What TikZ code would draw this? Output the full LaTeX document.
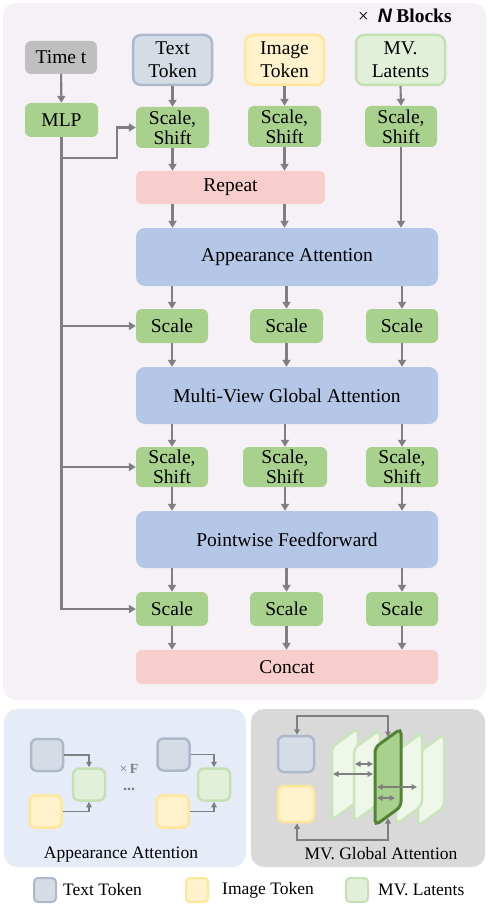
\documentclass[tikz,border=0pt]{standalone}
\usepackage{fontspec}
\setmainfont{Liberation Serif}
\setsansfont{Liberation Sans}
\usetikzlibrary{arrows.meta}
\definecolor{bgmain}{HTML}{F6F1F7}
\definecolor{bgleft}{HTML}{E5ECF7}
\definecolor{bgright}{HTML}{D9D9D9}
\definecolor{gfill}{HTML}{A9D18E}
\definecolor{bfill}{HTML}{B4C7E7}
\definecolor{rfill}{HTML}{F8CECC}
\definecolor{tfill}{HTML}{BFBFBF}
\definecolor{txtfill}{HTML}{D6DCE5}
\definecolor{txtdraw}{HTML}{ADB9CA}
\definecolor{imgfill}{HTML}{FFF2CC}
\definecolor{imgdraw}{HTML}{FFE699}
\definecolor{mvfill}{HTML}{E2F0D9}
\definecolor{mvdraw}{HTML}{C5E0B4}
\definecolor{pfill}{HTML}{EEF7E9}
\definecolor{pdraw}{HTML}{CBE5BB}
\definecolor{darkg}{HTML}{548235}
\definecolor{arrgray}{HTML}{7F7F7F}
\newcommand\mvpanel[2]{%
  \draw[panelst] (#1-13,#2-27) -- (#1+13,#2-46) -- (#1+13,#2+27) -- (#1-13,#2+46) -- cycle;}
\begin{document}
\begin{tikzpicture}[x=1pt,y=-1pt,
  box/.style={rounded corners=6pt,inner sep=0pt,align=center,
     font=\fontsize{19.5}{20}\selectfont},
  gbox/.style={box,fill=gfill},
  bbox/.style={box,fill=bfill,rounded corners=9pt},
  rbox/.style={box,fill=rfill},
  tokbox/.style={box,line width=2.5pt,rounded corners=8pt,font=\fontsize{19.5}{23}\selectfont},
  sq/.style={rounded corners=6pt,line width=2.5pt,minimum width=32pt,minimum height=32pt,inner sep=0pt},
  lsq/.style={rounded corners=4pt,line width=2pt,minimum width=22pt,minimum height=24pt,inner sep=0pt},
  txtst/.style={fill=txtfill,draw=txtdraw},
  imgst/.style={fill=imgfill,draw=imgdraw},
  mvst/.style={fill=mvfill,draw=mvdraw},
  arr/.style={draw=arrgray,line width=2.1pt,-{Triangle[length=7pt,width=8pt]}},
  sarr/.style={draw=arrgray,line width=1.4pt,-{Triangle[length=5.5pt,width=5.5pt]}},
  dtips/.style={{Triangle[length=5.5pt,width=5.5pt]}-{Triangle[length=5.5pt,width=5.5pt]}},
  darr/.style={draw=arrgray,line width=1.4pt,dtips},
  panelst/.style={fill=pfill,draw=pdraw,line width=2.5pt,rounded corners=5pt},
  lbl/.style={inner sep=0pt,font=\fontsize{17.5}{18}\selectfont}
  ]
\useasboundingbox (0,0) rectangle (488,904);
% backgrounds
\fill[bgmain,rounded corners=13pt] (3,3) rectangle (486,700);
\fill[bgleft,rounded corners=13pt] (4,709) rectangle (246,867);
\fill[bgright,rounded corners=13pt] (251,709) rectangle (485,867);

% title
\node[anchor=base west,inner sep=0pt] (title) at (358,23)
  {{\fontsize{19}{19}\selectfont ×}\hspace{9pt}{\fontsize{19.5}{20}\selectfont{\sffamily\bfseries\itshape N}\hspace{4pt}\textbf{Blocks}}};

% top row
\node[box,fill=tfill,minimum width=72pt,minimum height=33pt] (timet) at (61,57.5) {Time t};
\node[gbox,minimum width=73pt,minimum height=34pt] (mlp) at (61.5,120) {MLP};
\node[tokbox,txtst,minimum width=79pt,minimum height=50pt] (txt) at (172.5,60) {Text\\Token};
\node[tokbox,imgst,minimum width=79pt,minimum height=50pt] (img) at (284.5,60) {Image\\Token};
\node[tokbox,mvst,minimum width=89pt,minimum height=50pt] (mv) at (400.5,60) {MV.\\Latents};

\node[gbox,minimum width=73pt,minimum height=41pt] (ssa) at (172.5,127.5) {Scale,\\Shift};
\node[gbox,minimum width=73pt,minimum height=41pt] (ssb) at (284.5,126.5) {Scale,\\Shift};
\node[gbox,minimum width=72pt,minimum height=41pt] (ssc) at (401,126.5) {Scale,\\Shift};

\node[rbox,minimum width=189pt,minimum height=33pt] (rep) at (230.5,187.5) {Repeat};
\node[bbox,minimum width=302pt,minimum height=58pt] (aa) at (287,257) {Appearance Attention};

\node[gbox,minimum width=72pt,minimum height=34pt] (s2a) at (172,326) {Scale};
\node[gbox,minimum width=73pt,minimum height=34pt] (s2b) at (286.5,326) {Scale};
\node[gbox,minimum width=72pt,minimum height=34pt] (s2c) at (402,326) {Scale};

\node[bbox,minimum width=302pt,minimum height=57pt] (mvga) at (287,395.5) {Multi-View Global Attention};

\node[gbox,minimum width=72pt,minimum height=40pt] (s3a) at (172,467) {Scale,\\Shift};
\node[gbox,minimum width=84pt,minimum height=40pt] (s3b) at (285,467) {Scale,\\Shift};
\node[gbox,minimum width=72pt,minimum height=40pt] (s3c) at (402,467) {Scale,\\Shift};

\node[bbox,minimum width=302pt,minimum height=57pt] (pf) at (287,539.5) {Pointwise Feedforward};

\node[gbox,minimum width=72pt,minimum height=34pt] (s4a) at (172,609) {Scale};
\node[gbox,minimum width=73pt,minimum height=34pt] (s4b) at (286.5,609) {Scale};
\node[gbox,minimum width=72pt,minimum height=34pt] (s4c) at (402,609) {Scale};

\node[rbox,minimum width=302pt,minimum height=34pt] (concat) at (287,667) {Concat};

% arrows main
\draw[arr] (timet) -- (mlp);
\draw[arr] (txt.south) -- (ssa.north);
\draw[arr] (img.south) -- (ssb.north);
\draw[arr] (mv.south) -- (ssc.north);
\draw[arr] (ssa.south) -- (ssa.south |- rep.north);
\draw[arr] (ssb.south) -- (ssb.south |- rep.north);
\draw[arr] (ssc.south) -- (ssc.south |- aa.north);
\draw[arr] (rep.south -| ssa.south) -- (ssa.south |- aa.north);
\draw[arr] (rep.south -| ssb.south) -- (ssb.south |- aa.north);
\foreach \c in {a,b,c}{
  \draw[arr] (aa.south -| s2\c.north) -- (s2\c.north);
  \draw[arr] (s2\c.south) -- (s2\c.south |- mvga.north);
  \draw[arr] (mvga.south -| s3\c.north) -- (s3\c.north);
  \draw[arr] (s3\c.south) -- (s3\c.south |- pf.north);
  \draw[arr] (pf.south -| s4\c.north) -- (s4\c.north);
  \draw[arr] (s4\c.south) -- (s4\c.south |- concat.north);
}
% MLP branches
\coordinate (br) at (117,158);
\draw[arr] (mlp.south) |- (s4a.west);
\draw[arr] (mlp.south |- br) -- (br) |- (ssa.west);
\draw[arr] (mlp.south |- s2a.west) -- (s2a.west);
\draw[arr] (mlp.south |- s3a.west) -- (s3a.west);

% ---- Appearance attention panel
\node[sq,txtst] (at1) at (47,755) {};
\node[sq,imgst] (ai1) at (45.5,811.5) {};
\node[sq,mvst] (am1) at (89,784.5) {};
\node[sq,txtst] (at2) at (173.5,754.5) {};
\node[sq,imgst] (ai2) at (172.5,811.5) {};
\node[sq,mvst] (am2) at (214,784.5) {};
\draw[sarr] (at1.east) -| (am1.north);
\draw[sarr] (ai1.east) -| (am1.south);
\draw[sarr] (at2.east) -| (am2.north);
\draw[sarr] (ai2.east) -| (am2.south);
\node[inner sep=0pt,align=center,text=arrgray,font=\fontsize{14}{14}\selectfont] (xf) at (129,778)
  {×\,\textbf{F}\\[3pt]{\fontsize{16}{16}\selectfont\bfseries ...}};
\node[lbl] (aalbl) at (121,855) {Appearance Attention};

% ---- MV global attention panel
\node[sq,txtst,minimum width=36pt,minimum height=36pt] (gt) at (296,754) {};
\node[sq,imgst,minimum width=36pt,minimum height=36pt] (gi) at (296,804) {};
\mvpanel{345}{774}
\mvpanel{367}{775.5}
\mvpanel{431}{780}
\mvpanel{409}{778.5}
\draw[fill=gfill,draw=darkg,line width=3pt,rounded corners=5pt]
  (375,747.5) -- (401,728.5) -- (401,806.5) -- (375,825.5) -- cycle;
\coordinate (ptop) at (388,737);
\coordinate (pbot) at (388,818);
\coordinate (topl) at (297,716);
\coordinate (botl) at (297,840);
\draw[darr] (gt.north -| topl) -- (topl) -- (topl -| ptop) -- (ptop);
\draw[darr] (gi.south -| botl) -- (botl) -- (botl -| pbot) -- (pbot);
\coordinate (d1a) at (355,764); \coordinate (d1b) at (373,764);
\coordinate (d2a) at (333,774); \coordinate (d2b) at (373,774);
\coordinate (d3a) at (377,787); \coordinate (d3b) at (417,787);
\coordinate (d4a) at (377,798); \coordinate (d4b) at (395,798);
\draw[darr] (d1a) -- (d1b);
\draw[darr] (d2a) -- (d2b);
\draw[darr] (d3a) -- (d3b);
\draw[darr] (d4a) -- (d4b);
\node[lbl] (mvlbl) at (381,854) {MV. Global Attention};

% ---- legend
\node[lsq,txtst] (lt) at (45,890) {};
\node[lbl,anchor=west] (ltt) at (63,890) {Text Token};
\node[lsq,imgst] (li) at (197,890) {};
\node[lbl,anchor=west] (lit) at (222,890) {Image Token};
\node[lsq,mvst] (lm) at (357,890) {};
\node[lbl,anchor=west] (lmt) at (378,890) {MV. Latents};
\end{tikzpicture}
\end{document}
